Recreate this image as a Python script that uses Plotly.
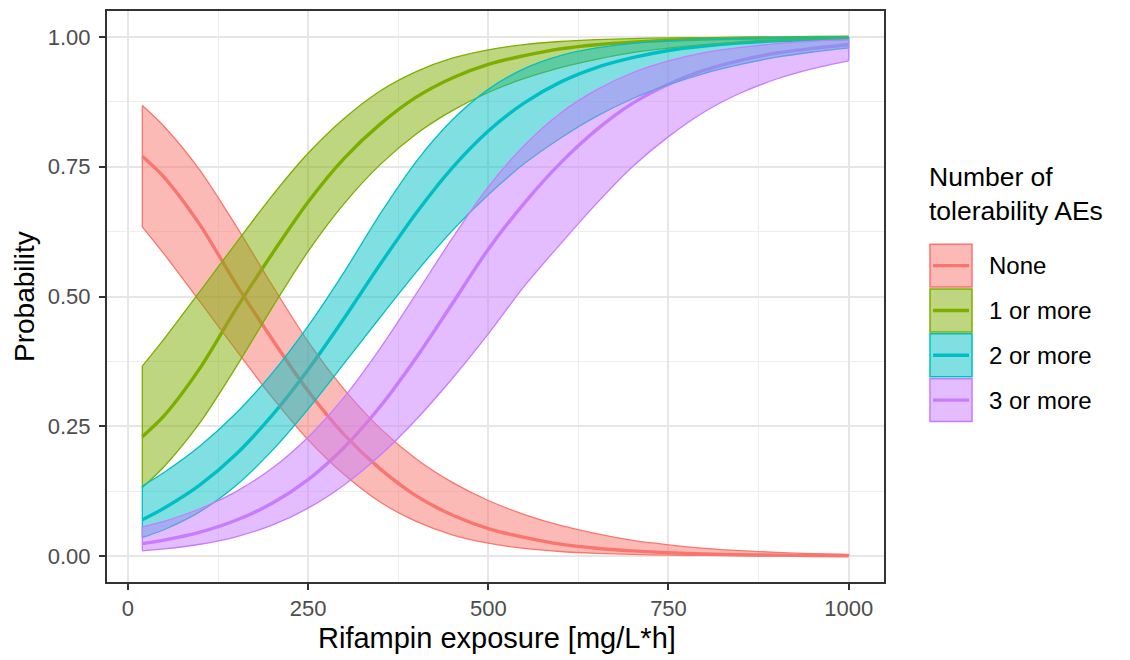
import plotly.graph_objects as go

# ---------------- data ----------------
exposure = [20, 50, 100, 150, 200, 250, 300, 350, 400, 450, 500,
            550, 600, 650, 700, 750, 800, 850, 900, 950, 1000]

groups = ["None", "1 or more", "2 or more", "3 or more"]

none_mid = [0.770, 0.730, 0.638, 0.524, 0.418, 0.318, 0.234, 0.168, 0.116, 0.079, 0.053,
            0.036, 0.023, 0.015, 0.0099, 0.0064, 0.0041, 0.0026, 0.0017, 0.0011, 0.0007]
none_lo = [0.634, 0.582, 0.490, 0.397, 0.306, 0.224, 0.157, 0.104, 0.0667, 0.041, 0.0248,
           0.0148, 0.0088, 0.0053, 0.0031, 0.0019, 0.0011, 0.0007, 0.0004, 0.0002, 0.0001]
none_hi = [0.868, 0.828, 0.743, 0.636, 0.522, 0.413, 0.321, 0.246, 0.187, 0.142, 0.107,
           0.080, 0.059, 0.043, 0.030, 0.0215, 0.0149, 0.0103, 0.0070, 0.0047, 0.0031]

one_mid = [0.230, 0.270, 0.362, 0.476, 0.582, 0.682, 0.766, 0.832, 0.884, 0.921, 0.947,
           0.964, 0.977, 0.985, 0.9901, 0.9936, 0.9959, 0.9974, 0.9983, 0.9989, 0.9993]
one_lo = [0.132, 0.172, 0.257, 0.364, 0.478, 0.587, 0.679, 0.754, 0.813, 0.858, 0.893,
          0.920, 0.941, 0.957, 0.970, 0.9785, 0.9851, 0.9897, 0.9930, 0.9953, 0.9969]
one_hi = [0.366, 0.418, 0.510, 0.603, 0.694, 0.776, 0.843, 0.896, 0.9333, 0.959, 0.9752,
          0.9852, 0.9912, 0.9947, 0.9969, 0.9981, 0.9989, 0.9993, 0.9996, 0.9998, 0.9999]

two_mid = [0.070, 0.092, 0.137, 0.196, 0.271, 0.359, 0.458, 0.562, 0.661, 0.748, 0.819,
           0.873, 0.913, 0.941, 0.960, 0.974, 0.9825, 0.9885, 0.9924, 0.995, 0.9967]
two_lo = [0.0356, 0.0507, 0.0855, 0.136, 0.203, 0.283, 0.371, 0.460, 0.547, 0.627, 0.696,
          0.756, 0.805, 0.847, 0.881, 0.908, 0.930, 0.947, 0.961, 0.971, 0.979]
two_hi = [0.135, 0.161, 0.212, 0.275, 0.352, 0.443, 0.547, 0.659, 0.760, 0.840, 0.899,
          0.939, 0.964, 0.9788, 0.9876, 0.9928, 0.9958, 0.9975, 0.9986, 0.9991, 0.9995]

three_mid = [0.0239, 0.0306, 0.0461, 0.0689, 0.1016, 0.1474, 0.2092, 0.288, 0.382, 0.486, 0.591,
             0.680, 0.757, 0.821, 0.872, 0.909, 0.936, 0.955, 0.969, 0.978, 0.985]
three_lo = [0.0100, 0.0137, 0.0227, 0.0371, 0.0595, 0.0924, 0.137, 0.194, 0.263, 0.342, 0.428,
            0.520, 0.601, 0.679, 0.750, 0.808, 0.856, 0.892, 0.919, 0.939, 0.954]
three_hi = [0.0563, 0.0669, 0.0911, 0.124, 0.169, 0.229, 0.306, 0.400, 0.505, 0.612, 0.711,
            0.791, 0.853, 0.898, 0.931, 0.954, 0.970, 0.980, 0.987, 0.9918, 0.9947]

x_ticks = [0, 250, 500, 750, 1000]
y_ticks = [0.00, 0.25, 0.50, 0.75, 1.00]

# ---------------- styling ----------------
colors = ["#F8766D", "#7CAE00", "#00BFC4", "#C77CFF"]
fills = ["rgba(248,118,109,0.5)", "rgba(124,174,0,0.5)",
         "rgba(0,191,196,0.5)", "rgba(199,124,255,0.5)"]
FONT = "Liberation Sans, Arial, Helvetica, sans-serif"

mids = [none_mid, one_mid, two_mid, three_mid]
los = [none_lo, one_lo, two_lo, three_lo]
his = [none_hi, one_hi, two_hi, three_hi]

fig = go.Figure()

# median lines first, translucent ribbons over them
for g, c, m in zip(groups, colors, mids):
    fig.add_trace(go.Scatter(x=exposure, y=m, mode="lines", name=g,
                             line=dict(color=c, width=3.4, shape="spline", smoothing=0.8),
                             showlegend=False, hoverinfo="skip"))
for g, c, f, lo, hi in zip(groups, colors, fills, los, his):
    fig.add_trace(go.Scatter(x=exposure, y=lo, mode="lines", name=g,
                             line=dict(color=c, width=1.3, shape="spline", smoothing=0.8),
                             showlegend=False, hoverinfo="skip"))
    fig.add_trace(go.Scatter(x=exposure, y=hi, mode="lines", name=g,
                             fill="tonexty", fillcolor=f,
                             line=dict(color=c, width=1.3, shape="spline", smoothing=0.8),
                             showlegend=False, hoverinfo="skip"))
    # closing edges of the ribbon at both ends
    fig.add_trace(go.Scatter(x=[exposure[0], exposure[0], None, exposure[-1], exposure[-1]],
                             y=[lo[0], hi[0], None, lo[-1], hi[-1]], mode="lines",
                             line=dict(color=c, width=1.3), showlegend=False,
                             hoverinfo="skip"))

W, H = 1130, 660
L, R, T, B = 107, 884, 9, 582


def px(v):
    return (v - L) / (R - L)


def py(v):
    return (B - v) / (B - T)


fig.update_layout(
    width=W, height=H,
    margin=dict(l=L, r=W - R, t=T, b=H - B, pad=0),
    paper_bgcolor="white", plot_bgcolor="white",
    font=dict(family=FONT, color="#4D4D4D"),
    showlegend=False,
)

axis_common = dict(
    showline=True, mirror=True, linecolor="#333333", linewidth=2,
    showgrid=True, gridcolor="#E6E6E6", gridwidth=1.5,
    zeroline=False, ticks="outside", ticklen=6, tickwidth=1.5,
    tickcolor="#333333", tickfont=dict(size=22, color="#4D4D4D", family=FONT),
)
fig.update_xaxes(range=[-29, 1049], tickvals=x_ticks,
                 ticktext=[str(v) for v in x_ticks],
                 minor=dict(tickvals=[125, 375, 625, 875], showgrid=True,
                            gridcolor="#EDEDED", gridwidth=1, ticks=""),
                 **axis_common)
fig.update_yaxes(range=[-0.05, 1.05], tickvals=y_ticks,
                 ticktext=[f"{v:.2f}" for v in y_ticks], ticklabelstandoff=4,
                 minor=dict(tickvals=[0.125, 0.375, 0.625, 0.875], showgrid=True,
                            gridcolor="#EDEDED", gridwidth=1, ticks=""),
                 **axis_common)

ann = []
# axis titles
ann.append(dict(text="Rifampin exposure [mg/L*h]", x=px(497), y=py(638),
                xref="paper", yref="paper", showarrow=False,
                xanchor="center", yanchor="middle",
                font=dict(size=29, color="black", family=FONT)))
ann.append(dict(text="Probability", x=px(25), y=py(296),
                xref="paper", yref="paper", showarrow=False, textangle=-90,
                xanchor="center", yanchor="middle",
                font=dict(size=28, color="black", family=FONT)))
# legend title (one two-line text)
ann.append(dict(text="Number of<br>tolerability AEs", x=px(927), y=py(193),
                xref="paper", yref="paper", showarrow=False,
                xanchor="left", yanchor="middle", align="left",
                font=dict(size=26.5, color="black", family=FONT)))

shapes = []
key_top = 242
key_h = 45
for i, (g, c, f) in enumerate(zip(groups, colors, fills)):
    y0 = key_top + i * key_h
    y1 = y0 + key_h
    yc = (y0 + y1) / 2
    shapes.append(dict(type="rect", xref="paper", yref="paper",
                       x0=px(930), x1=px(972), y0=py(y1 - 1), y1=py(y0 + 1),
                       fillcolor=f, line=dict(color=c, width=1.5)))
    shapes.append(dict(type="line", xref="paper", yref="paper",
                       x0=px(933), x1=px(969), y0=py(yc), y1=py(yc),
                       line=dict(color=c, width=3.4)))
    ann.append(dict(text=g, x=px(987), y=py(yc), xref="paper", yref="paper",
                    showarrow=False, xanchor="left", yanchor="middle",
                    font=dict(size=24, color="black", family=FONT)))

fig.update_layout(annotations=ann, shapes=shapes)

fig.write_html("out.html")
